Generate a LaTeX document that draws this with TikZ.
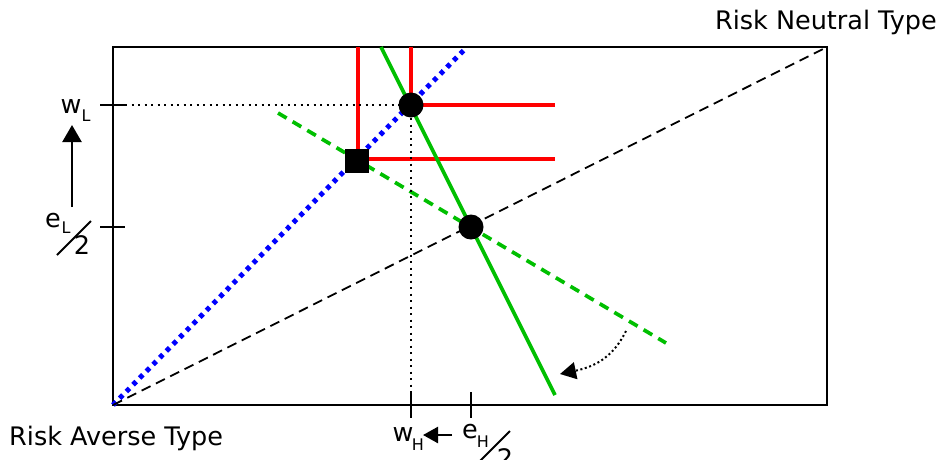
\documentclass[tikz,border=0pt]{standalone}
\usepackage{fontspec}
\setmainfont{DejaVu Sans}
\usetikzlibrary{arrows.meta}
\begin{document}
\begin{tikzpicture}[x=1pt,y=-1pt,
  lab/.style={inner sep=0pt,font=\fontsize{25.5}{25.5}\selectfont},
  sub/.style={inner sep=0pt,font=\fontsize{16}{16}\selectfont},
  frame/.style={line width=2.4pt},
  redl/.style={red,line width=3.7pt},
  greenl/.style={green!75!black,line width=3.7pt},
  greend/.style={green!75!black,line width=3.7pt,dash pattern=on 10pt off 7pt},
  bluedot/.style={blue,line width=5pt,dash pattern=on 4.5pt off 5pt},
  blackdash/.style={line width=1.8pt,dash pattern=on 10pt off 6pt},
  blackdot/.style={line width=2pt,dash pattern=on 2pt off 4.5pt},
  tick/.style={line width=2.4pt},
  dotmark/.style={circle,fill=black,minimum size=25pt,inner sep=0pt},
  sqmark/.style={rectangle,fill=black,minimum size=23.5pt,inner sep=0pt},
  arr/.style={line width=2.4pt}
]
\useasboundingbox (0,0) rectangle (941,459);
% frame
\coordinate (BL) at (113,405);
\coordinate (TR) at (827,47);
\draw[frame] (113,47) rectangle (827,405);
% point coordinates
\coordinate (p1) at (411,105);
\coordinate (ps) at (357,161);
\coordinate (p2) at (471,227);
% red lines
\coordinate (r1t) at (358,47);
\coordinate (r1b) at (358,161);
\coordinate (r2t) at (411,47);
\coordinate (r1e) at (555,105);
\coordinate (r2s) at (357,159);
\coordinate (r2e) at (555,159);
\draw[redl] (r1t) -- (r1b);
\draw[redl] (r2t) -- (p1);
\draw[redl] (p1) -- (r1e);
\draw[redl] (r2s) -- (r2e);
% green solid
\coordinate (g1) at (381,47);
\coordinate (g2) at (555,395);
\draw[greenl] (g1) -- (g2);
% green dashed
\coordinate (gd1) at (278,113);
\coordinate (gd2) at (666,343);
\draw[greend] (gd1) -- (gd2);
% blue dotted
\coordinate (bt) at (467,47);
\draw[bluedot] (BL) -- (bt);
% black dashed
\draw[blackdash] (BL) -- (TR);
% dotted guides
\coordinate (wLt) at (125,105);
\coordinate (wHt) at (411,405);
\draw[blackdot] (wLt) -- (p1);
\draw[blackdot] (p1) -- (wHt);
% marks
\node[dotmark] (c1) at (p1) {};
\node[sqmark] (sq) at (ps) {};
\node[dotmark] (c2) at (p2) {};
% ticks
\draw[tick] (100,105) -- (125,105);
\draw[tick] (100,227) -- (125,227);
\draw[tick] (411,392) -- (411,418);
\draw[tick] (471,392) -- (471,418);
% left labels
\node[lab] (wL) at (71,107) {w};
\node[sub] (wLs) at (86,116) {L};
\node[lab] (eL) at (53,221) {e};
\node[sub] (eLs) at (66,228) {L};
\coordinate (sl1) at (57,255);
\coordinate (sl2) at (91,221);
\draw[line width=2pt] (sl1) -- (sl2);
\node[lab] (two1) at (82,245) {2};
\coordinate (ua1) at (72,207);
\coordinate (ua2) at (72,125);
\draw[arr,-{Triangle[length=17pt,width=19pt]}] (ua1) -- (ua2);
% bottom labels
\node[lab] (wH) at (403,435) {w};
\node[sub] (wHs) at (418,445) {H};
\node[lab] (eH) at (470,432) {e};
\node[sub] (eHs) at (483,442) {H};
\coordinate (sb1) at (478,463);
\coordinate (sb2) at (510,431);
\draw[line width=2pt] (sb1) -- (sb2);
\node[lab] (two2) at (505,458) {2};
\coordinate (la1) at (452,435);
\coordinate (la2) at (423,435);
\draw[arr,-{Triangle[length=15pt,width=16pt]}] (la1) -- (la2);
% curved dotted arrow
\coordinate (ca1) at (626,331);
\coordinate (ca2) at (560,374);
\draw[line width=2pt,dash pattern=on 2pt off 2.6pt,-{Triangle[length=16pt,width=17pt]}]
  (ca1) .. controls (614,355) and (598,366) .. (ca2);
% titles
\node[lab,anchor=east] (rn) at (937,22) {Risk Neutral Type};
\node[lab,anchor=west] (ra) at (9,438) {Risk Averse Type};
\end{tikzpicture}
\end{document}
